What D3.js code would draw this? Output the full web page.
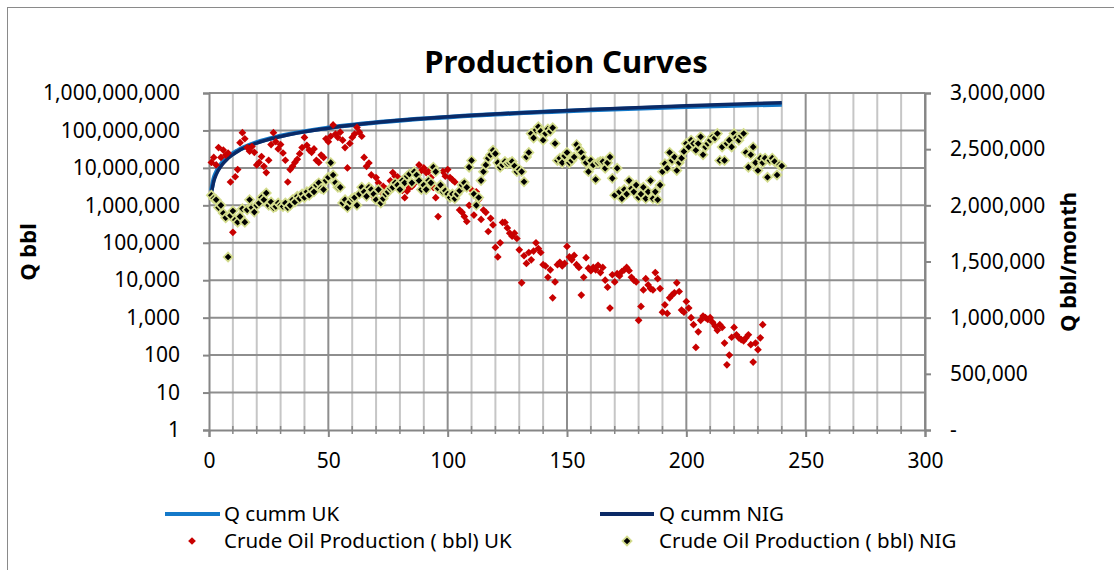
<!DOCTYPE html>
<html>
<head>
<meta charset="utf-8">
<script src="https://cdn.jsdelivr.net/npm/d3@7"></script>
<style>
  body { margin: 0; background: #fff; }
  svg { font-family: "Noto Sans", "Open Sans", sans-serif; }
</style>
</head>
<body>
<div id="chart"></div>
<script>
// cumulative curves at a few months
const cummMonths = [1, 2, 3, 5, 8, 12, 20, 30, 50, 80, 120, 160, 200, 240];
const cummUK  = [2.5e6, 5.2e6, 7.6e6, 1.25e7, 1.95e7, 2.9e7, 4.8e7, 7.1e7, 1.18e8, 1.85e8, 2.7e8, 3.5e8, 4.3e8, 4.95e8];
const cummNIG = [2.1e6, 4.4e6, 6.6e6, 1.1e7, 1.8e7, 2.75e7, 4.6e7, 6.9e7, 1.15e8, 1.86e8, 2.75e8, 3.65e8, 4.6e8, 5.5e8];

// monthly crude oil production, UK (months 1..232), left log axis
const prodUK = [
  1.4e7, 1.9e7, 1.2e7, 3.5e7, 1.9e7, 3.0e7, 2.2e7, 2.5e7, 4.2e6, 1.9e5,
  5.8e6, 9e6, 4.7e7, 8.7e7, 6e7, 3.5e7, 2.8e7, 3.7e7, 2.6e7, 1.2e7,
  1.4e7, 2e7, 1.1e7, 7.5e6, 1.6e7, 4.2e7, 8.7e7, 5e7, 3.2e7, 4.2e7,
  2.5e7, 1.6e7, 4.2e6, 9e6, 1.1e7, 1.4e7, 1.7e7, 2.4e7, 3.5e7, 6.5e7,
  4e7, 3e7, 2.6e7, 3.2e7, 1.6e7, 1.4e7, 2.2e7, 1.9e7, 6e7, 5e7,
  7e7, 1.4e8, 8e7, 6.5e7, 9e7, 5.5e7, 3.5e7, 1e7, 4.5e7, 6.5e7,
  8e7, 1.2e8, 9e7, 7e7, 1.9e7, 1.1e7, 1.35e7, 6.5e6, 1.7e6, 5.5e6,
  4e6, 2.3e6, 3.2e6, 2.8e6, 2.6e6, 4.5e6, 7.5e6, 6e6, 5.8e6, 3.5e6,
  2.5e6, 1.6e6, 2.4e6, 3e6, 3.2e6, 3.8e6, 6e6, 1.2e7, 8.5e6, 1e7,
  7.5e6, 8e6, 5.5e6, 3e6, 1.6e6, 5e5, 3.5e6, 8e6, 6e6, 9e6,
  5.5e6, 4.8e6, 4.2e6, 2e6, 7.5e5, 6.5e5, 5e5, 3.7e5, 1e6, 2.6e6,
  5.5e5, 2.3e6, 1.4e6, 4.2e5, 7.5e5, 6.5e5, 2e5, 4.5e5, 3e5, 7.5e4,
  4.2e4, 1e5, 3.5e5, 3.5e5, 2.5e5, 1.8e5, 1.5e5, 1.8e5, 1.3e5, 6.5e4,
  8.5e3, 4.5e4, 2.8e4, 5.5e4, 3.5e4, 6e4, 1e5, 7e4, 5.5e4, 2.6e4,
  2.4e4, 1.2e4, 1.9e4, 3.4e3, 9e3, 2.6e4, 3e4, 2.4e4, 2.8e4, 8e4,
  4.2e4, 3.5e4, 4.6e4, 2.6e4, 2.2e4, 4e3, 1.2e4, 4e4, 2.1e4, 1.8e4,
  2.2e4, 1.9e4, 2.5e4, 1.6e4, 2.2e4, 1e4, 6.5e3, 1.8e3, 1.4e4, 9e3,
  1.5e4, 1.3e4, 1.7e4, 1.9e4, 2.2e4, 1.8e4, 1.2e4, 1e4, 9e3, 8.5e2,
  2e3, 5.5e3, 1.1e4, 7.5e3, 6e3, 5.5e3, 1.6e4, 1.1e4, 6e3, 1.4e3,
  2.2e3, 1.3e3, 3.4e3, 4e3, 4.6e3, 8.5e3, 5e3, 1.6e3, 1.4e3, 2.7e3,
  1.8e3, 1e3, 6.5e2, 1.6e2, 4.2e2, 8.5e2, 1.1e3, 1e3, 9e2, 1e3,
  7.5e2, 6e2, 4.6e2, 6.5e2, 5.5e2, 2.1e2, 55, 1e2, 3e2, 5.5e2,
  3.5e2, 2.9e2, 2.6e2, 2.4e2, 2.9e2, 3.5e2, 1.9e2, 65, 2.1e2, 1.4e2,
  2.9e2, 6.5e2
];

// monthly crude oil production, NIG (months 1..240), right linear axis
const prodNIG = [
  2.09e6, 2.06e6, 2.05e6, 1.98e6, 2.0e6, 1.93e6, 1.89e6, 1.54e6, 1.91e6, 1.95e6,
  1.87e6, 1.85e6, 1.9e6, 1.97e6, 1.85e6, 1.96e6, 2.05e6, 1.98e6, 1.94e6, 2.0e6,
  2.02e6, 2.07e6, 2.05e6, 2.11e6, 2.0e6, 2.03e6, 1.98e6, 1.99e6, 2.02e6, 2.0e6,
  1.99e6, 2.02e6, 1.98e6, 2.0e6, 2.05e6, 2.03e6, 2.08e6, 2.06e6, 2.1e6, 2.07e6,
  2.12e6, 2.09e6, 2.14e6, 2.12e6, 2.18e6, 2.2e6, 2.15e6, 2.14e6, 2.22e6, 2.25e6,
  2.38e6, 2.27e6, 2.2e6, 2.16e6, 2.16e6, 2.02e6, 2.05e6, 1.98e6, 2.03e6, 2.06e6,
  2.07e6, 2.0e6, 2.1e6, 2.16e6, 2.12e6, 2.08e6, 2.16e6, 2.14e6, 2.1e6, 2.05e6,
  2.14e6, 2.02e6, 2.06e6, 2.1e6, 2.12e6, 2.15e6, 2.16e6, 2.2e6, 2.18e6, 2.14e6,
  2.22e6, 2.2e6, 2.26e6, 2.28e6, 2.2e6, 2.3e6, 2.27e6, 2.22e6, 2.14e6, 2.18e6,
  2.14e6, 2.22e6, 2.2e6, 2.34e6, 2.3e6, 2.15e6, 2.18e6, 2.12e6, 2.13e6, 2.1e6,
  2.07e6, 2.1e6, 2.06e6, 2.1e6, 2.13e6, 2.18e6, 2.2e6, 2.16e6, 2.34e6, 2.4e6,
  2.1e6, 2.0e6, 2.07e6, 2.22e6, 2.3e6, 2.36e6, 2.42e6, 2.45e6, 2.49e6, 2.46e6,
  2.38e6, 2.34e6, 2.36e6, 2.39e6, 2.37e6, 2.38e6, 2.39e6, 2.35e6, 2.3e6, 2.32e6,
  2.3e6, 2.21e6, 2.43e6, 2.47e6, 2.64e6, 2.6e6, 2.67e6, 2.7e6, 2.66e6, 2.58e6,
  2.64e6, 2.68e6, 2.66e6, 2.69e6, 2.55e6, 2.4e6, 2.42e6, 2.38e6, 2.44e6, 2.47e6,
  2.38e6, 2.4e6, 2.43e6, 2.54e6, 2.5e6, 2.47e6, 2.42e6, 2.38e6, 2.3e6, 2.4e6,
  2.36e6, 2.23e6, 2.38e6, 2.39e6, 2.39e6, 2.33e6, 2.38e6, 2.43e6, 2.24e6, 2.09e6,
  2.33e6, 2.12e6, 2.06e6, 2.14e6, 2.1e6, 2.22e6, 2.15e6, 2.12e6, 2.18e6, 2.07e6,
  2.1e6, 2.16e6, 2.06e6, 2.12e6, 2.22e6, 2.06e6, 2.12e6, 2.05e6, 2.18e6, 2.3e6,
  2.37e6, 2.33e6, 2.47e6, 2.4e6, 2.43e6, 2.31e6, 2.38e6, 2.42e6, 2.48e6, 2.55e6,
  2.52e6, 2.58e6, 2.55e6, 2.49e6, 2.55e6, 2.61e6, 2.45e6, 2.52e6, 2.55e6, 2.58e6,
  2.61e6, 2.6e6, 2.64e6, 2.4e6, 2.52e6, 2.4e6, 2.55e6, 2.58e6, 2.52e6, 2.64e6,
  2.6e6, 2.58e6, 2.62e6, 2.64e6, 2.47e6, 2.34e6, 2.45e6, 2.52e6, 2.38e6, 2.31e6,
  2.42e6, 2.38e6, 2.42e6, 2.25e6, 2.4e6, 2.42e6, 2.39e6, 2.27e6, 2.36e6, 2.35e6
];

const xTicks = [0, 50, 100, 150, 200, 250, 300];
const leftTicks = [1, 10, 100, 1e3, 1e4, 1e5, 1e6, 1e7, 1e8, 1e9];
const rightTicks = [0, 5e5, 1e6, 1.5e6, 2e6, 2.5e6, 3e6];

const W = 1114, H = 570;
const plot = {left: 209, right: 925, top: 93, bottom: 430};

const svg = d3.select('#chart').append('svg')
    .attr('width', W)
    .attr('height', H);

// chart frame
svg.append('rect')
    .attr('x', 7.5).attr('y', 7.5)
    .attr('width', W + 20).attr('height', H + 20)
    .attr('fill', '#fff')
    .attr('stroke', '#8a8a8a');

const x = d3.scaleLinear().domain([0, 300]).range([plot.left, plot.right]);
const yL = d3.scaleLog().domain([1, 1e9]).range([plot.bottom, plot.top]);
const yR = d3.scaleLinear().domain([0, 3e6]).range([plot.bottom, plot.top]);

// grid
const grid = svg.append('g');
grid.selectAll('.vminor')
    .data(d3.range(10, 300, 10).filter(d => d % 50 !== 0))
    .enter().append('line')
    .attr('x1', d => x(d)).attr('x2', d => x(d))
    .attr('y1', plot.top).attr('y2', plot.bottom)
    .attr('stroke', '#c6c6c6').attr('stroke-width', 2);
grid.selectAll('.vmajor')
    .data(xTicks.slice(1))
    .enter().append('line')
    .attr('x1', d => x(d)).attr('x2', d => x(d))
    .attr('y1', plot.top).attr('y2', plot.bottom)
    .attr('stroke', '#8e8e8e').attr('stroke-width', 2);
grid.selectAll('.hline')
    .data(leftTicks.slice(1))
    .enter().append('line')
    .attr('x1', plot.left).attr('x2', plot.right)
    .attr('y1', d => yL(d)).attr('y2', d => yL(d))
    .attr('stroke', '#8e8e8e').attr('stroke-width', 2);

// axes
const axisColor = '#868686';
const xAxis = svg.append('g')
    .attr('transform', `translate(0,${plot.bottom})`)
    .call(d3.axisBottom(x).tickValues(xTicks).tickSize(7).tickPadding(16).tickFormat(d3.format('d')));
svg.append('g')
    .selectAll('line')
    .data(d3.range(10, 300, 10).filter(d => d % 50 !== 0))
    .enter().append('line')
    .attr('x1', d => x(d)).attr('x2', d => x(d))
    .attr('y1', plot.bottom - 4).attr('y2', plot.bottom + 4)
    .attr('stroke', axisColor).attr('stroke-width', 1.5);

const leftAxis = svg.append('g')
    .attr('transform', `translate(${plot.left},0)`)
    .call(d3.axisLeft(yL).tickValues(leftTicks).tickSize(6).tickPadding(23).tickFormat(d3.format(',')));

const rightAxis = svg.append('g')
    .attr('transform', `translate(${plot.right},0)`)
    .call(d3.axisRight(yR).tickValues(rightTicks).tickSize(6).tickPadding(19)
        .tickFormat(d => d === 0 ? '-' : d3.format(',')(d)));

[xAxis, leftAxis, rightAxis].forEach(a => {
    a.select('.domain').attr('stroke', axisColor).attr('stroke-width', 2);
    a.selectAll('.tick line').attr('stroke', axisColor).attr('stroke-width', 2);
    a.selectAll('.tick text')
        .attr('font-size', 21)
        .attr('font-family', '"Noto Sans", sans-serif')
        .attr('fill', '#000');
});

// cumulative lines
const lineL = d3.line()
    .x(d => x(d[0]))
    .y(d => yL(d[1]))
    .curve(d3.curveMonotoneX);

svg.append('path')
    .datum(cummMonths.map((m, i) => [m, cummUK[i]]))
    .attr('d', lineL)
    .attr('fill', 'none')
    .attr('stroke', '#1479c9')
    .attr('stroke-width', 4.5);

svg.append('path')
    .datum(cummMonths.map((m, i) => [m, cummNIG[i]]))
    .attr('d', lineL)
    .attr('fill', 'none')
    .attr('stroke', '#0b2a66')
    .attr('stroke-width', 3.5);

// UK monthly points
const diamondRed = d3.symbol().type(d3.symbolDiamond2).size(38);
svg.append('g')
    .selectAll('path')
    .data(prodUK)
    .enter().append('path')
    .attr('d', diamondRed)
    .attr('transform', (d, i) => `translate(${x(i + 1)},${yL(d)})`)
    .attr('fill', '#c80000');

// NIG monthly points
const diamondOuter = d3.symbol().type(d3.symbolDiamond2).size(84);
const diamondInner = d3.symbol().type(d3.symbolDiamond2).size(28);
const nig = svg.append('g')
    .selectAll('g')
    .data(prodNIG)
    .enter().append('g')
    .attr('transform', (d, i) => `translate(${x(i + 1)},${yR(d)})`);
nig.append('path').attr('d', diamondOuter).attr('fill', '#d3dc8c');
nig.append('path').attr('d', diamondInner).attr('fill', '#000');

// title
svg.append('text')
    .attr('x', 566).attr('y', 73)
    .attr('text-anchor', 'middle')
    .attr('font-size', 31)
    .attr('font-weight', 'bold')
    .text('Production Curves');

// axis titles
svg.append('text')
    .attr('transform', 'translate(36,252) rotate(-90)')
    .attr('text-anchor', 'middle')
    .attr('font-size', 22)
    .attr('font-weight', 'bold')
    .text('Q bbl');

svg.append('text')
    .attr('transform', 'translate(1076,262) rotate(-90)')
    .attr('text-anchor', 'middle')
    .attr('font-size', 22)
    .attr('font-weight', 'bold')
    .text('Q bbl/month');

// legend
const legend = svg.append('g').attr('font-size', 20.5);
legend.append('line')
    .attr('x1', 165).attr('x2', 220).attr('y1', 514).attr('y2', 514)
    .attr('stroke', '#1479c9').attr('stroke-width', 4);
legend.append('text').attr('x', 224).attr('y', 521).text('Q cumm UK');
legend.append('line')
    .attr('x1', 600).attr('x2', 654).attr('y1', 514).attr('y2', 514)
    .attr('stroke', '#0b2a66').attr('stroke-width', 4);
legend.append('text').attr('x', 659).attr('y', 521).text('Q cumm NIG');
legend.append('path').attr('d', diamondRed)
    .attr('transform', 'translate(192,541)').attr('fill', '#c80000');
legend.append('text').attr('x', 224).attr('y', 548).text('Crude Oil Production ( bbl) UK');
legend.append('path').attr('d', diamondOuter)
    .attr('transform', 'translate(627,541)').attr('fill', '#d3dc8c');
legend.append('path').attr('d', diamondInner)
    .attr('transform', 'translate(627,541)').attr('fill', '#000');
legend.append('text').attr('x', 659).attr('y', 548).text('Crude Oil Production ( bbl) NIG');
</script>
</body>
</html>
